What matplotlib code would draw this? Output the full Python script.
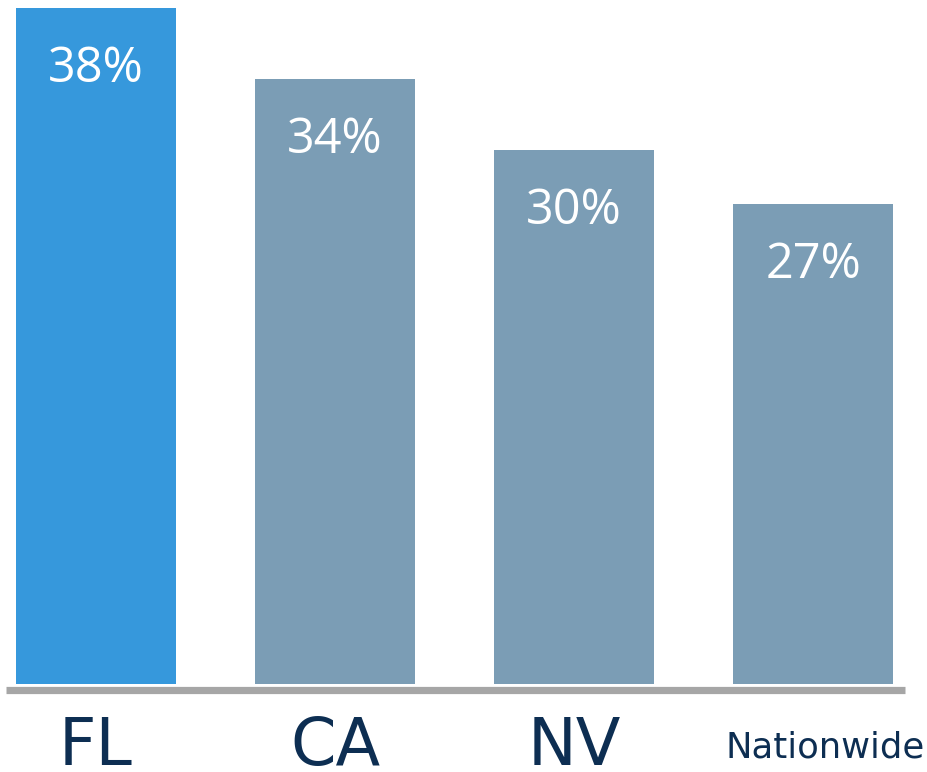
import matplotlib
matplotlib.use("Agg")
import matplotlib.pyplot as plt

categories = ["FL", "CA", "NV", "Nationwide"]
values = [38, 34, 30, 27]
value_labels = ["38%", "34%", "30%", "27%"]

bar_colors = ["#3698dc", "#7b9db5", "#7b9db5", "#7b9db5"]
label_color = "#0d2e52"

W, H = 927, 772
fig = plt.figure(figsize=(W / 100, H / 100), dpi=100)
ax_bottom_px = 684
ax = fig.add_axes([0, 1 - ax_bottom_px / H, 1, ax_bottom_px / H])

x0_px, step_px = 96, 239
ax.set_xlim(-x0_px / step_px, (W - x0_px) / step_px)
top_px = 8
ax.set_ylim(0, values[0] * ax_bottom_px / (ax_bottom_px - top_px))

xs = list(range(len(categories)))
bars = ax.bar(xs, values, width=160 / step_px, color=bar_colors, linewidth=0)

for b, lab in zip(bars, value_labels):
    ax.annotate(lab, (b.get_x() + b.get_width() / 2, b.get_height()),
                xytext=(0, -44), textcoords="offset points",
                ha="center", va="center", color="white",
                fontsize=35, family="Open Sans")

# baseline
px2y = ax.get_ylim()[1] / ax_bottom_px
ax.plot([(6 - x0_px) / step_px, (905 - x0_px) / step_px], [-5.5 * px2y] * 2,
        color="#a6a6a6", lw=5.2, solid_capstyle="butt", clip_on=False)

for x, c in zip(xs, categories):
    if c != "Nationwide":
        ax.text(x, -81 * px2y, c, ha="center", va="baseline", color=label_color,
                family="DejaVu Sans", fontsize=47)
    else:
        ax.text(x + (112) / step_px, -74 * px2y, c, ha="right", va="baseline",
                color=label_color, family="DejaVu Sans", fontsize=25.5)

ax.axis("off")
fig.savefig("out.png", dpi=100)
